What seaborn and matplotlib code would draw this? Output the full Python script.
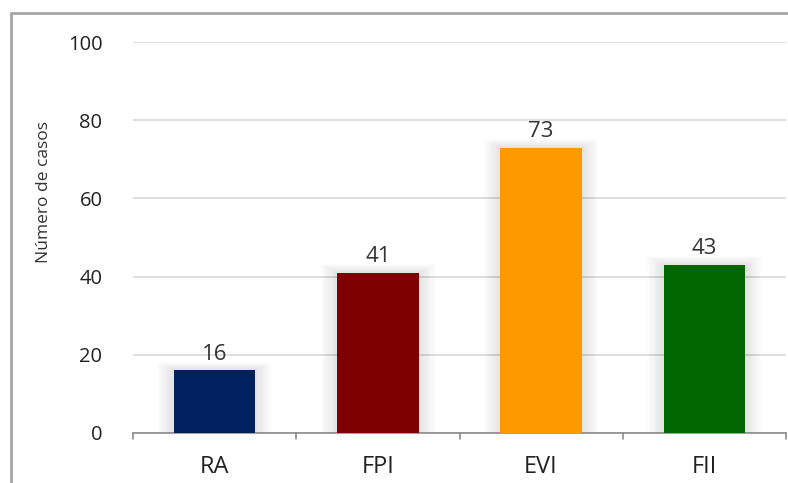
import matplotlib
matplotlib.use("Agg")
import matplotlib.pyplot as plt
import seaborn as sns
import pandas as pd
from matplotlib.patches import Rectangle

categories = ["RA", "FPI", "EVI", "FII"]
casos = [16, 41, 73, 43]
colores = ["#002060", "#7F0000", "#FF9900", "#006600"]
y_ticks = [0, 20, 40, 60, 80, 100]

sns.set_style("white")
plt.rcParams["font.family"] = ["Open Sans", "DejaVu Sans"]

df = pd.DataFrame({"categoria": categories, "casos": casos})

fig = plt.figure(figsize=(7.88, 4.83), dpi=100)
ax = fig.add_axes([133 / 788, 1 - 433 / 483, (786 - 133) / 788, (433 - 42) / 483])

# soft shadow behind each bar
for k in range(1, 10):
    ax.bar(range(len(casos)), [v + 0.25 * k for v in casos], width=0.5 + 0.022 * k,
           color="#000000", alpha=0.012, linewidth=0, zorder=1)

sns.barplot(data=df, x="categoria", y="casos", hue="categoria",
            palette=colores, width=0.5, legend=False, ax=ax, zorder=3,
            saturation=1, linewidth=0, edgecolor="none")

ax.set_xlim(-0.5, len(categories) - 0.5)
ax.set_ylim(0, 100)
ax.set_yticks(y_ticks)
ax.set_yticklabels([str(t) for t in y_ticks], fontsize=14.5, color="#222222")
ax.tick_params(axis="y", length=0, pad=22)
ax.set_xticks(range(len(categories)))
ax.set_xticklabels(categories, fontsize=17, color="#222222")
ax.tick_params(axis="x", length=0, pad=16)

# category separators on the base line
for b in [i - 0.5 for i in range(len(categories) + 1)]:
    ax.plot([b, b], [0, -1.6], color="#8c8c8c", lw=1.2, clip_on=False, zorder=4)

ax.yaxis.grid(True, color="#d9d9d9", lw=1.2)
ax.set_axisbelow(True)
for s in ["top", "right", "left"]:
    ax.spines[s].set_visible(False)
ax.spines["bottom"].set_color("#8c8c8c")
ax.spines["bottom"].set_linewidth(1.2)
ax.set_xlabel("")
ax.set_ylabel("")

for i, v in enumerate(casos):
    ax.text(i, v + 1.4, str(v), ha="center", va="bottom", fontsize=16,
            color="#333333", zorder=5)

fig.text(44 / 788, 1 - 192 / 483, "Número de casos", rotation=90,
         ha="center", va="center", fontsize=12.5, color="#333333")

# outer frame
fig.patches.append(Rectangle((11 / 788, -0.1), 1.2, 1.1 - 13 / 483,
                             transform=fig.transFigure, fill=False,
                             edgecolor="#a6a6a6", lw=2, zorder=0))

fig.savefig("out.png", dpi=100)
